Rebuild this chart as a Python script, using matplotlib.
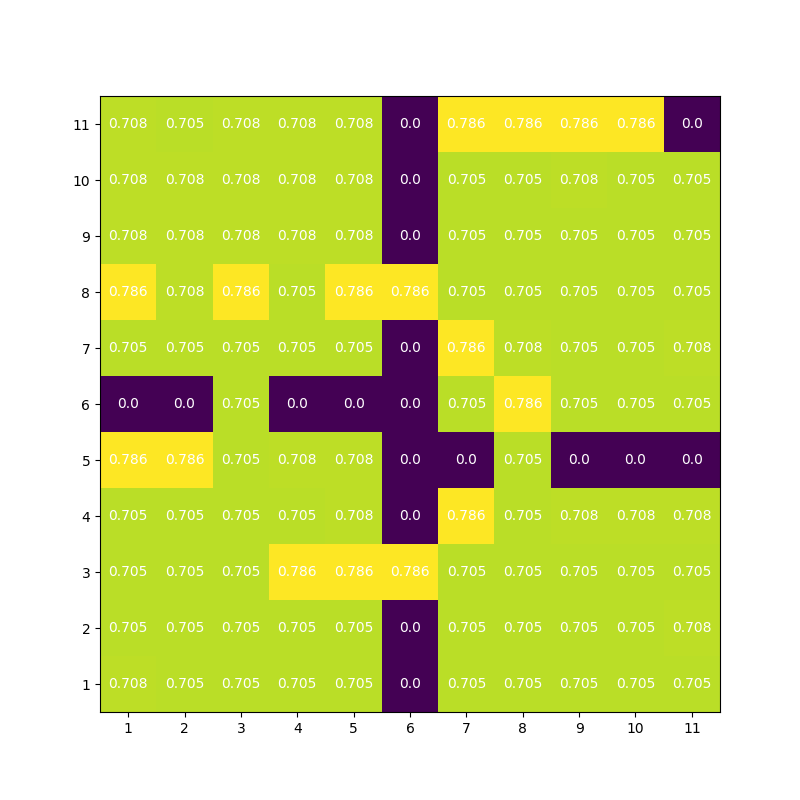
import numpy as np
import matplotlib
matplotlib.use('Agg')
import matplotlib.pyplot as plt

# indices das linhas/colunas (1..11)
labels = list(range(1, 12))

# valores por linha, de baixo (1) para cima (11)
row_1 = [0.708, 0.705, 0.705, 0.705, 0.705, 0.0, 0.705, 0.705, 0.705, 0.705, 0.705]
row_2 = [0.705, 0.705, 0.705, 0.705, 0.705, 0.0, 0.705, 0.705, 0.705, 0.705, 0.708]
row_3 = [0.705, 0.705, 0.705, 0.786, 0.786, 0.786, 0.705, 0.705, 0.705, 0.705, 0.705]
row_4 = [0.705, 0.705, 0.705, 0.705, 0.708, 0.0, 0.786, 0.705, 0.708, 0.708, 0.708]
row_5 = [0.786, 0.786, 0.705, 0.708, 0.708, 0.0, 0.0, 0.705, 0.0, 0.0, 0.0]
row_6 = [0.0, 0.0, 0.705, 0.0, 0.0, 0.0, 0.705, 0.786, 0.705, 0.705, 0.705]
row_7 = [0.705, 0.705, 0.705, 0.705, 0.705, 0.0, 0.786, 0.708, 0.705, 0.705, 0.708]
row_8 = [0.786, 0.708, 0.786, 0.705, 0.786, 0.786, 0.705, 0.705, 0.705, 0.705, 0.705]
row_9 = [0.708, 0.708, 0.708, 0.708, 0.708, 0.0, 0.705, 0.705, 0.705, 0.705, 0.705]
row_10 = [0.708, 0.708, 0.708, 0.708, 0.708, 0.0, 0.705, 0.705, 0.708, 0.705, 0.705]
row_11 = [0.708, 0.705, 0.708, 0.708, 0.708, 0.0, 0.786, 0.786, 0.786, 0.786, 0.0]

dados = np.array([row_1, row_2, row_3, row_4, row_5, row_6,
                  row_7, row_8, row_9, row_10, row_11])

fig, ax = plt.subplots(figsize=(8, 8))
ax.imshow(dados, cmap='viridis', origin='lower', aspect='auto',
          extent=[0.5, 11.5, 0.5, 11.5])

# rótulos com os valores em cada célula
for i in range(dados.shape[0]):
    for j in range(dados.shape[1]):
        ax.text(labels[j], labels[i], str(round(dados[i, j], 3)),
                ha='center', va='center', color='white')

ax.set_xticks(labels)
ax.set_yticks(labels)

plt.savefig('out.png', dpi=100)
